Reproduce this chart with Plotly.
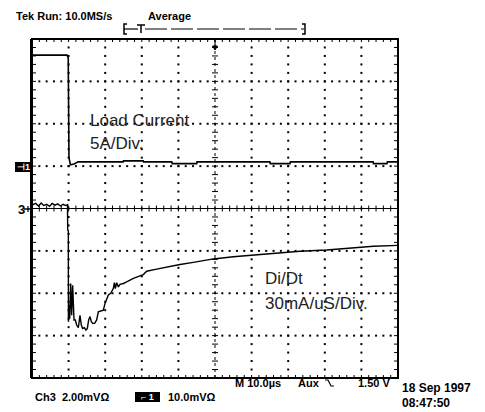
import plotly.graph_objects as go

# ---------------- data (time in microseconds, amplitude in divisions) ----------------
t_load = [0, 9.6, 9.9, 10.0, 10.1, 10.5, 11.5, 12.6, 24.9, 25.0, 30.4, 30.5, 38.2, 38.3,
          45.0, 45.1, 65.0, 65.1, 70.5, 70.6, 93.2, 93.3, 97.0, 97.1, 100]
load_div = [3.62, 3.62, 3.55, 2.5, 1.2, 1.03, 1.05, 1.10, 1.10, 1.125, 1.125, 1.10, 1.10, 1.06,
            1.06, 1.10, 1.10, 1.06, 1.06, 1.10, 1.10, 1.06, 1.06, 1.10, 1.10]

t_didt = [0, 1, 1.8, 2.5, 3.2, 4, 4.8, 5.5, 6.3, 7, 7.8, 8.5, 9.2, 9.7,
          9.75, 9.93, 9.95, 10.2, 10.3, 10.57, 10.84, 11.11, 11.48, 11.84, 12.2, 12.66,
          13.11, 13.48, 13.84, 14.3, 14.75, 15.12, 15.48, 15.85, 16.21, 16.57, 17.12,
          17.67, 18.12, 18.58, 19.49, 19.95, 20.4, 20.86, 21.5, 21.86, 22.22, 22.5,
          22.77, 23.13, 23.59, 24.04, 24.95, 25.87, 27.69, 30.42, 31.33, 34.06, 36.79,
          40.44, 44.08, 49.54, 55.0, 64.1, 73.2, 80.5, 86.9, 93.3, 100]
didt_div = [0.08, 0.12, 0.06, 0.13, 0.07, 0.10, 0.05, 0.12, 0.08, 0.11, 0.06, 0.10, 0.07, 0.09,
            -0.50, -0.52, -2.67, -2.28, -2.60, -1.77, -2.52, -1.81, -2.63, -2.63, -2.75, -2.81,
            -2.52, -2.75, -2.83, -2.81, -2.87, -2.83, -2.63, -2.55, -2.67, -2.71, -2.71,
            -2.63, -2.44, -2.42, -2.40, -2.24, -2.12, -2.04, -2.00, -1.93, -1.89, -1.75,
            -1.89, -1.75, -1.85, -1.79, -1.77, -1.73, -1.65, -1.56, -1.48, -1.43, -1.38,
            -1.32, -1.27, -1.19, -1.14, -1.08, -1.01, -0.98, -0.93, -0.89, -0.87]

# ---------------- layout geometry ----------------
OFF = 8                      # page body margin of the html page
W, H = 485 - OFF, 412 - OFF
# plot box in reference-page pixels
RL, RR, RT, RB = 32, 398, 39, 378
L, R, T, B = RL - OFF, RR - OFF, RT - OFF, RB - OFF
XU = 100.0 / (R - L)   # data units per pixel (x)
YU = 8.0 / (B - T)     # data units per pixel (y)


def pxp(x):
    return (x - RL) / (RR - RL)


def pyp(y):
    return (RB - y) / (RB - RT)


fig = go.Figure()

# dotted graticule
gx, gy = [], []
for k in range(1, 10):
    if k == 5:
        continue
    for j in range(1, 40):
        gx.append(k * 10)
        gy.append(-4 + j * 0.2)
for k in range(-3, 4):
    if k == 0:
        continue
    for i in range(1, 50):
        gx.append(i * 2)
        gy.append(k)
fig.add_trace(go.Scatter(x=gx, y=gy, mode='markers', hoverinfo='skip',
                         marker=dict(size=2, color='black', symbol='square', line=dict(width=0))))

# tick marks
sx, sy = [], []


def seg(x0, y0, x1, y1):
    sx.extend([x0, x1, None])
    sy.extend([y0, y1, None])


for j in range(1, 40):
    y = -4 + j * 0.2
    seg(0, y, 4 * XU, y)
    seg(100, y, 100 - 4 * XU, y)
    seg(50 - 3 * XU, y, 50 + 3 * XU, y)
for i in range(1, 50):
    x = i * 2
    seg(x, 4, x, 4 - 3 * YU)
    seg(x, -4, x, -4 + 3 * YU)
    seg(x, -3 * YU, x, 3 * YU)
seg(0, 0, 100, 0)
fig.add_trace(go.Scatter(x=sx, y=sy, mode='lines', hoverinfo='skip',
                         line=dict(color='black', width=1)))
# center vertical dotted
fig.add_trace(go.Scatter(x=[50, 50], y=[-4, 4], mode='lines', hoverinfo='skip',
                         line=dict(color='black', width=1, dash='dot')))

# waveforms
fig.add_trace(go.Scatter(x=t_load, y=load_div, mode='lines', name='Load Current',
                         line=dict(color='black', width=1.6)))
fig.add_trace(go.Scatter(x=t_didt, y=didt_div, mode='lines', name='Di/Dt',
                         line=dict(color='black', width=1.4)))

shapes = []
# border
shapes.append(dict(type='rect', xref='paper', yref='paper', x0=0, x1=1, y0=0, y1=1,
                   line=dict(color='black', width=2)))
shapes.append(dict(type='line', xref='paper', yref='paper', x0=pxp(31), x1=pxp(31), y0=0, y1=1,
                   line=dict(color='black', width=2)))


def ppath(points, width=1.2, fill=None):
    d = 'M ' + ' L '.join('%.5f %.5f' % (pxp(a), pyp(b)) for a, b in points)
    if fill:
        d += ' Z'
    s = dict(type='path', xref='paper', yref='paper', path=d,
             line=dict(color='black', width=width))
    if fill:
        s['fillcolor'] = fill
    return s


# trigger bracket at top
shapes.append(ppath([(127, 24), (124, 24), (124, 34), (127, 34)], 1.5))
shapes.append(ppath([(124, 29), (138, 29)], 1.2))
shapes.append(ppath([(137, 25), (145, 25)], 1.5))
shapes.append(ppath([(141, 25), (141, 33)], 1.5))
shapes.append(dict(type='line', xref='paper', yref='paper', x0=pxp(145), x1=pxp(304),
                   y0=pyp(29), y1=pyp(29), line=dict(color='black', width=1.2, dash='22px,4px')))
shapes.append(ppath([(302, 24), (305, 24), (305, 34), (302, 34)], 1.5))
# trigger arrow on top border
shapes.append(ppath([(215, 39), (215, 47)], 1.2))
shapes.append(ppath([(212.5, 46), (217.5, 46), (215, 50)], 1, fill='black'))
# ch1 ground marker box
shapes.append(dict(type='rect', xref='paper', yref='paper', x0=pxp(15), x1=pxp(31),
                   y0=pyp(172), y1=pyp(162), fillcolor='black', line=dict(width=0)))
# ch3 marker arrow
shapes.append(ppath([(24, 209), (32, 209)], 1.5))
shapes.append(ppath([(28, 206), (28, 212)], 1.2))
# slope symbol near Aux
shapes.append(ppath([(325, 380), (328, 380), (331, 386), (334, 386)], 1.2))
# footer black box
shapes.append(dict(type='rect', xref='paper', yref='paper', x0=pxp(135), x1=pxp(160),
                   y0=pyp(402), y1=pyp(392), fillcolor='black', line=dict(width=0)))

ann = []


def text(x, y, s, size=11, bold=True, color='black', anchor='left', family='Liberation Sans'):
    ann.append(dict(x=pxp(x), y=pyp(y), xref='paper', yref='paper', text=s, showarrow=False,
                    xanchor=anchor, yanchor='middle',
                    font=dict(family=family, size=size, color=color,
                              weight='bold' if bold else 'normal')))


text(14, 16, 'Tek Run: 10.0MS/s', 11)
text(146, 16, 'Average', 11)
text(88, 120, 'Load Current', 17, bold=False, color='#222')
text(88, 143, '5A/Div.', 17, bold=False, color='#222')
text(263, 278, 'Di/Dt', 17, bold=False, color='#222')
text(263, 303, '30mA/uS/Div.', 17, bold=False, color='#222')
text(16, 209, '3', 13)
text(23, 167, '⊣1', 9, color='white', anchor='center')
text(233, 383, 'M 10.0µs', 11)
text(296, 383, 'Aux', 11)
text(356, 383, '1.50 V', 11)
text(400, 388, '18 Sep 1997', 12)
text(400, 403, '08:47:50', 12)
text(33, 397, 'Ch3  2.00mVΩ', 11)
text(147.5, 397, '⌐ 1', 9, color='white', anchor='center')
text(166, 397, '10.0mVΩ', 11)

fig.update_layout(
    width=W, height=H,
    margin=dict(l=L, r=W - R, t=T, b=H - B, pad=0),
    paper_bgcolor='white', plot_bgcolor='white',
    showlegend=False,
    xaxis=dict(range=[0, 100], showgrid=False, zeroline=False, showticklabels=False,
               ticks='', fixedrange=True),
    yaxis=dict(range=[-4, 4], showgrid=False, zeroline=False, showticklabels=False,
               ticks='', fixedrange=True),
    shapes=shapes, annotations=ann,
)

fig.write_html('out.html')
